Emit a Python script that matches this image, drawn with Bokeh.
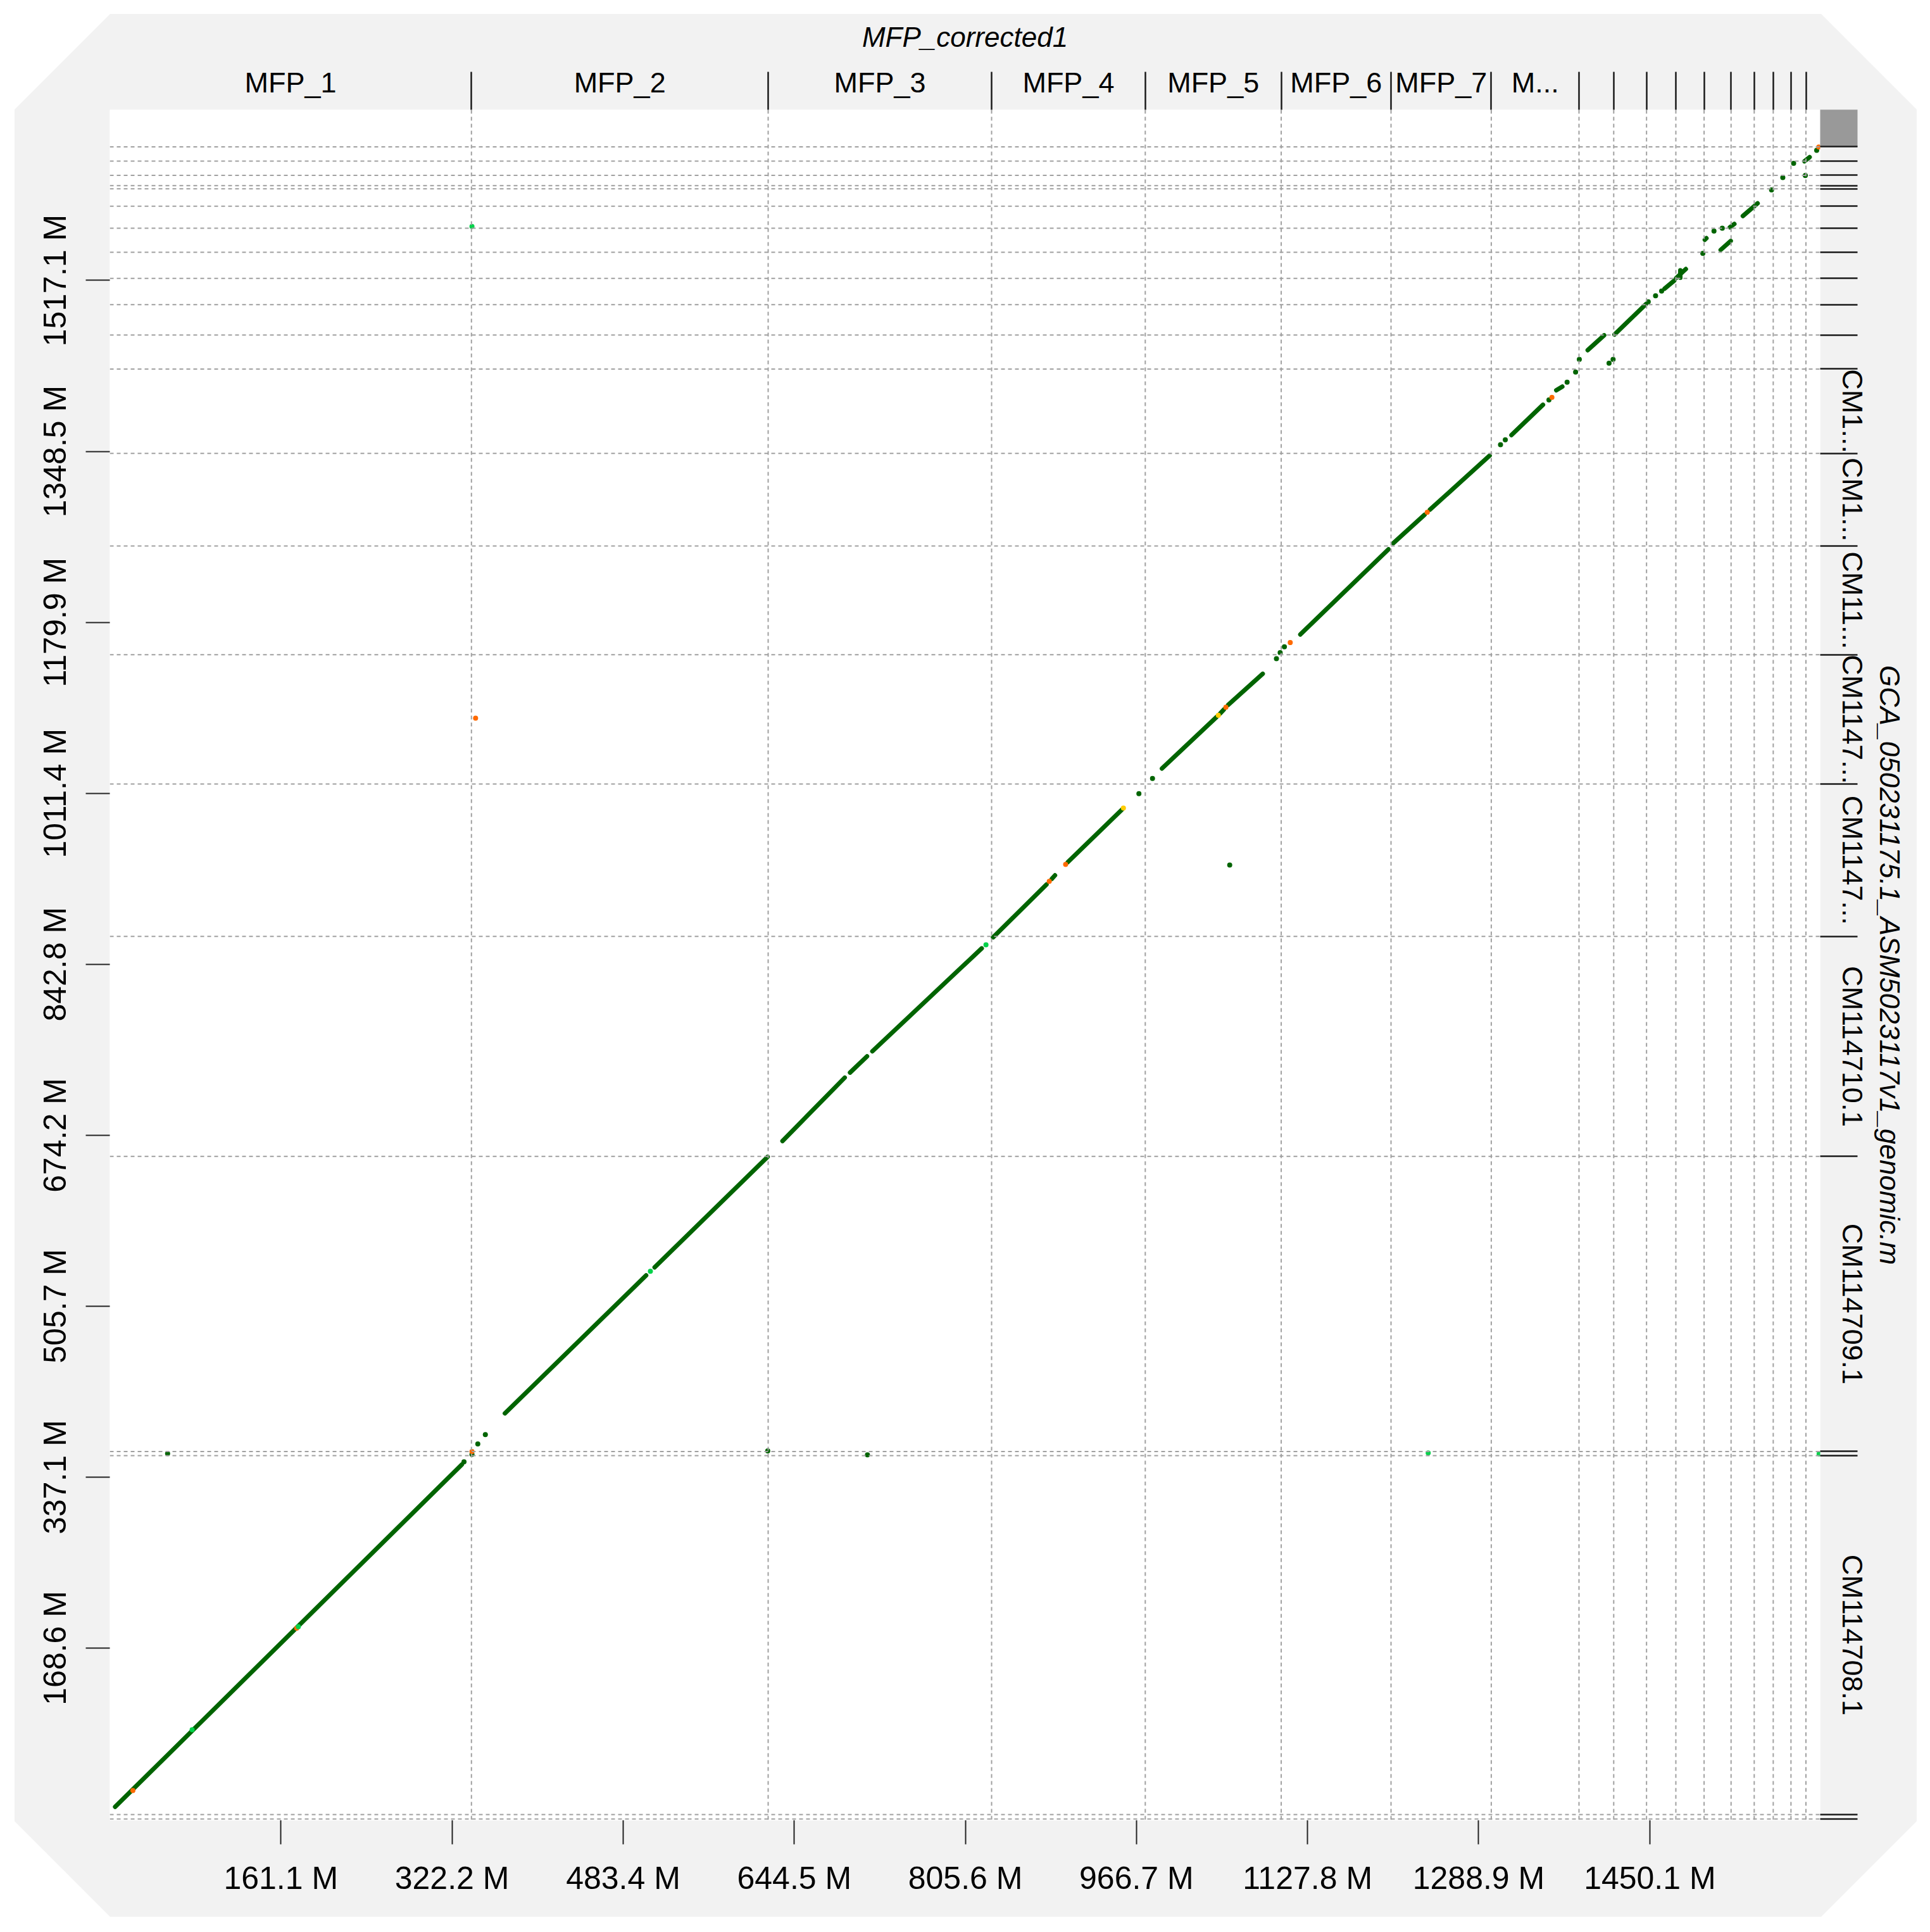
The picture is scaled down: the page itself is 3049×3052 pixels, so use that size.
from bokeh.plotting import figure
from bokeh.models import (Range1d, LinearAxis, FixedTicker, PrintfTickFormatter, Span,
                          ColumnDataSource)
from bokeh.embed import file_html
from bokeh.resources import INLINE

# ---------------- data (Mb) ----------------
x_total = 1610.5
y_total = 1685.3
y_min = -1.25

x_starts = [0.0, 340.5, 619.9, 830.3, 975.0, 1103.0, 1206.4, 1300.8, 1383.4, 1416.1,
            1447.0, 1474.6, 1501.2, 1526.6, 1548.4, 1566.3, 1583.0, 1597.1]
x_names = ["MFP_1", "MFP_2", "MFP_3", "MFP_4", "MFP_5", "MFP_6", "MFP_7", "M...",
           "", "", "", "", "", "", "", "", "", ""]

y_starts = [0.0, 4.4, 358.3, 362.4, 653.3, 870.2, 1020.6, 1148.0, 1255.3, 1346.5,
            1429.7, 1463.2, 1493.2, 1519.1, 1544.8, 1568.5, 1590.2, 1607.4, 1610.5,
            1620.7, 1634.7, 1648.8]
y_names = ["", "CM114708.1", "", "CM114709.1", "CM114710.1", "CM1147...", "CM1147...",
           "CM11...", "CM1...", "CM1...", "", "", "", "", "", "", "", "", "", "", "", ""]

x_tick_values = [161.1, 322.2, 483.4, 644.5, 805.6, 966.7, 1127.8, 1288.9, 1450.1]
y_tick_values = [168.6, 337.1, 505.7, 674.2, 842.8, 1011.4, 1179.9, 1348.5, 1517.1]

x_title = "MFP_corrected1"
y_title = "GCA_050231175.1_ASM5023117v1_genomic.m"

# alignment segments
seg_x0 = [5.0, 372.0, 513.0, 633.4, 697.0, 718.0, 831.7, 887.0, 902.0, 990.7, 1045.5, 1053.0,
          1121.0, 1208.5, 1243.0, 1319.8, 1362.0, 1391.6, 1416.8, 1464.0, 1474.9, 1478.8,
          1501.9, 1525.5, 1516.8, 1537.7, 1595.7]
seg_y0 = [12.0, 400.0, 544.0, 668.5, 736.0, 757.0, 869.4, 927.0, 943.5, 1035.8, 1090.0, 1098.5,
          1168.0, 1258.0, 1291.0, 1364.6, 1408.8, 1448.3, 1463.7, 1509.0, 1519.4, 1519.8,
          1557.2, 1569.5, 1547.2, 1580.6, 1634.6]
seg_x1 = [331.5, 505.0, 619.4, 692.0, 713.0, 821.0, 882.0, 890.0, 953.0, 1042.0, 1049.0, 1085.6,
          1204.0, 1238.0, 1299.3, 1349.5, 1367.7, 1407.1, 1446.4, 1473.1, 1484.0, 1478.8,
          1503.4, 1529.7, 1526.3, 1551.6, 1600.6]
seg_y1 = [349.5, 536.0, 652.9, 731.0, 752.0, 858.5, 921.5, 930.5, 995.3, 1086.5, 1094.0, 1129.2,
          1252.0, 1286.0, 1344.4, 1394.5, 1412.4, 1463.0, 1493.7, 1516.9, 1528.3, 1527.0,
          1558.7, 1572.8, 1556.0, 1593.1, 1638.7]
seg_kind = ["dg"] * 27

# short alignments (dots)
dot_x = [333.5, 341.0, 341.0, 346.5, 353.6, 21.7, 77.5, 176.0, 177.5, 509.0, 825.0,
         884.6, 900.0, 954.4, 969.0, 981.8, 1043.8, 1050.9, 1098.5, 1102.0, 1106.0, 1111.5,
         1054.5, 1240.5, 1309.5, 1314.0, 1355.1, 1357.9, 1372.2, 1380.2, 1383.7, 1411.7,
         1415.5, 1448.6, 1455.5, 1461.2, 1500.0, 1510.5, 1518.3, 1564.7, 1575.3, 1585.5,
         1596.5, 1607.2, 1609.2, 54.4, 619.5, 713.4, 1241.4, 1609.5, 341.0, 344.4]
dot_y = [352.2, 359.5, 362.3, 369.8, 379.0, 28.1, 88.0, 188.2, 189.6, 540.0, 862.0,
         924.5, 941.3, 996.8, 1011.0, 1026.0, 1088.2, 1096.3, 1144.2, 1150.0, 1155.8, 1160.0,
         940.7, 1288.4, 1355.1, 1360.0, 1399.3, 1401.7, 1416.8, 1426.7, 1439.2, 1435.5,
         1439.2, 1496.0, 1502.0, 1506.7, 1543.8, 1565.7, 1568.5, 1606.3, 1618.5, 1632.6,
         1620.6, 1645.4, 1648.6, 360.3, 363.0, 359.0, 361.0, 360.0, 1570.3, 1085.4]
dot_kind = ["dg", "dg", "or", "dg", "dg", "or", "lg", "or", "lg", "lg", "lg",
            "or", "or", "ye", "dg", "dg", "ye", "or", "dg", "dg", "dg", "or",
            "dg", "or", "dg", "dg", "dg", "or", "dg", "dg", "dg", "dg",
            "dg", "dg", "dg", "dg", "dg", "dg", "dg", "dg", "dg", "dg",
            "dg", "dg", "or", "dg", "dg", "dg", "lg", "lg", "lg", "or"]

# ---------------- styling ----------------
palette = {"dg": "#006400", "lg": "#00d24a", "or": "#ff6a00", "ye": "#ffcc00"}
FONT = "Liberation Sans"
OX, OY = 23, 22                      # offset of the grey panel inside the canvas
W, H = 3005 + OX, 3006 + OY
BL, BR, BT, BB = 150 + OX, 153, 151 + OY, 153
frame_w = W - BL - BR
frame_h = H - BT - BB
TOP_TICK = 60
RIGHT_TICK = 59
CUT = 151

p = figure(width=W, height=H, x_range=Range1d(0, x_total), y_range=Range1d(y_min, y_total),
           x_axis_location=None, y_axis_location=None, toolbar_location=None,
           output_backend="svg", min_border_left=BL, min_border_right=BR,
           min_border_top=BT, min_border_bottom=BB, background_fill_color="white",
           border_fill_color="#f2f2f2", outline_line_color=None)
p.grid.visible = False
poly = [(OX + CUT, OY), (W - CUT, OY), (W, OY + CUT), (W, H - CUT), (W - CUT, H),
        (OX + CUT, H), (OX, H - CUT), (OX, OY + CUT)]
p.styles = {"clip-path": "polygon(" + ", ".join(f"{a}px {b}px" for a, b in poly) + ")"}

# chromosome boundary grid (dashed)
for xs in x_starts[1:]:
    p.add_layout(Span(location=xs, dimension="height", line_color="#a0a0a0",
                      line_width=2, line_dash="6 5"))
for ys in y_starts:
    p.add_layout(Span(location=ys, dimension="width", line_color="#a0a0a0",
                      line_width=2, line_dash="6 5"))

# alignments
seg_src = ColumnDataSource(dict(x0=seg_x0, y0=seg_y0, x1=seg_x1, y1=seg_y1,
                                c=[palette[k] for k in seg_kind]))
p.segment("x0", "y0", "x1", "y1", source=seg_src, line_color="c", line_width=7,
          line_cap="round")
dot_order = sorted(range(len(dot_x)), key=lambda i: dot_kind[i] != "dg")
dot_src = ColumnDataSource(dict(x=[dot_x[i] for i in dot_order], y=[dot_y[i] for i in dot_order],
                                c=[palette[dot_kind[i]] for i in dot_order]))
p.scatter("x", "y", source=dot_src, size=8, fill_color="c", line_color=None)

# helpers for centred labels
x_ends = x_starts[1:] + [x_total]
x_centers = [(a + b) / 2 for a, b, n in zip(x_starts, x_ends, x_names) if n]
x_lab = [n for n in x_names if n]
y_ends = y_starts[1:] + [y_total]
y_centers = [(a + b) / 2 for a, b, n in zip(y_starts, y_ends, y_names) if n]
y_lab = [n for n in y_names if n]

num_font = "50px"
name_font = "45px"
title_font = "44px"

bottom = LinearAxis(ticker=FixedTicker(ticks=x_tick_values),
                    formatter=PrintfTickFormatter(format="%.1f M"),
                    major_tick_out=38, major_tick_in=0, minor_tick_out=0, minor_tick_in=0,
                    major_tick_line_color="#222222", major_tick_line_width=2,
                    axis_line_color=None, major_label_standoff=25,
                    major_label_text_font=FONT, major_label_text_font_size=num_font,
                    major_label_text_color="black")
p.add_layout(bottom, "below")

left = LinearAxis(ticker=FixedTicker(ticks=y_tick_values),
                  formatter=PrintfTickFormatter(format="%.1f M"),
                  major_tick_out=38, major_tick_in=0, minor_tick_out=0, minor_tick_in=0,
                  major_tick_line_color="#222222", major_tick_line_width=2,
                  axis_line_color=None, major_label_standoff=20,
                  major_label_orientation="parallel",
                  major_label_text_font=FONT, major_label_text_font_size=num_font,
                  major_label_text_color="black")
p.add_layout(left, "left")

top = LinearAxis(ticker=FixedTicker(ticks=x_centers, minor_ticks=x_starts[1:]),
                 major_label_overrides=dict(zip(x_centers, x_lab)),
                 major_tick_out=0, major_tick_in=0, minor_tick_out=TOP_TICK, minor_tick_in=0,
                 minor_tick_line_color="#1a1a1a", minor_tick_line_width=2.5,
                 axis_line_color=None, major_label_standoff=18 - TOP_TICK,
                 major_label_text_font=FONT, major_label_text_font_size=name_font,
                 major_label_text_color="black",
                 axis_label=x_title, axis_label_text_font=FONT,
                 axis_label_text_font_style="italic", axis_label_text_font_size=title_font,
                 axis_label_text_color="black", axis_label_standoff=19)
p.add_layout(top, "above")

# block of small unplaced sequences in the right margin: a single wide tick
# drawn outward (negative inward length), so it takes no layout space
box_center = (y_starts[-1] + y_total) / 2
box_h = (y_total - y_starts[-1]) / (y_total - y_min) * frame_h
box_axis = LinearAxis(ticker=FixedTicker(ticks=[], minor_ticks=[box_center]),
                      major_tick_out=0, major_tick_in=0, minor_tick_out=0,
                      minor_tick_in=-RIGHT_TICK, minor_tick_line_width=box_h,
                      minor_tick_line_color="#999999", minor_tick_line_cap="butt",
                      axis_line_color=None, major_label_standoff=0,
                      major_label_text_font_size="0px")
p.add_layout(box_axis, "right")

right = LinearAxis(ticker=FixedTicker(ticks=y_centers, minor_ticks=y_starts),
                   major_label_overrides=dict(zip(y_centers, y_lab)),
                   major_tick_out=0, major_tick_in=0, minor_tick_out=RIGHT_TICK, minor_tick_in=0,
                   minor_tick_line_color="#1a1a1a", minor_tick_line_width=2.5,
                   axis_line_color=None, major_label_standoff=25 - RIGHT_TICK,
                   major_label_orientation="parallel",
                   major_label_text_font=FONT, major_label_text_font_size=name_font,
                   major_label_text_color="black",
                   axis_label=y_title, axis_label_text_font=FONT,
                   axis_label_text_font_style="italic", axis_label_text_font_size=title_font,
                   axis_label_text_color="black", axis_label_standoff=6)
p.add_layout(right, "right")

open("out.html", "w").write(file_html(p, INLINE))
